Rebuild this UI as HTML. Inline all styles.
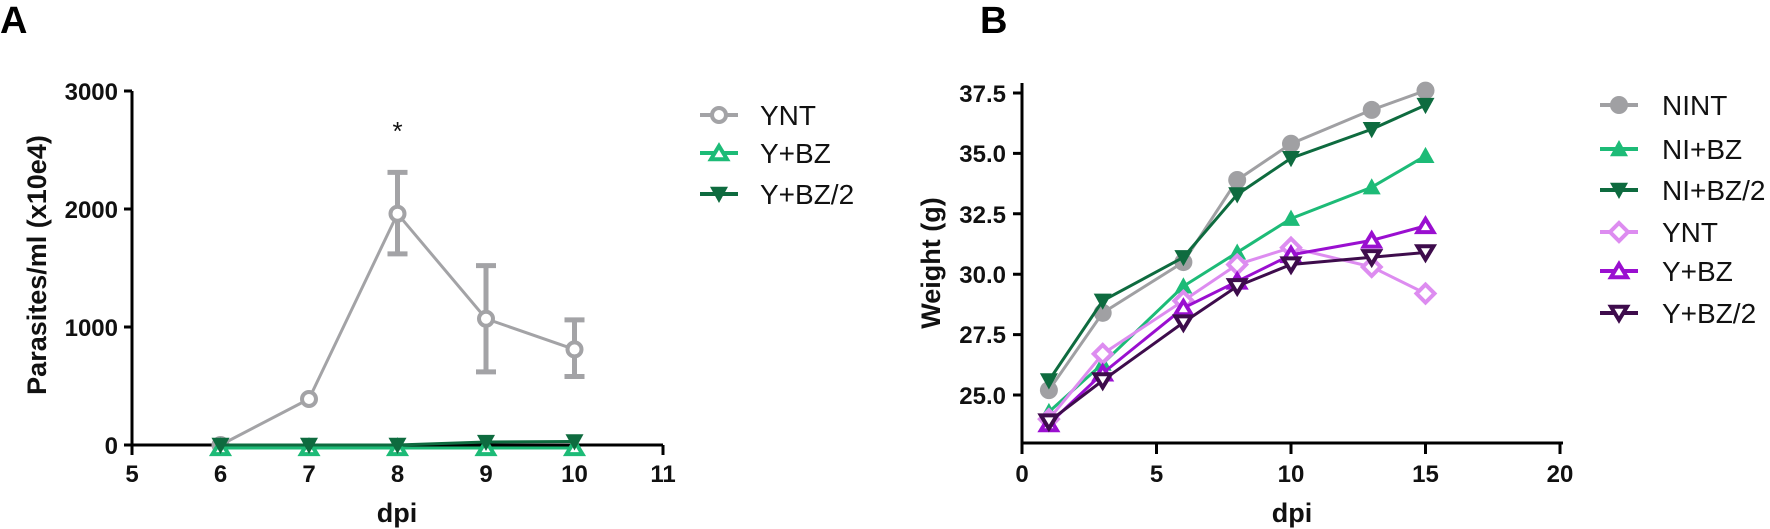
<!DOCTYPE html>
<html><head><meta charset="utf-8"><style>
html,body{margin:0;padding:0;background:#fff;}
svg{display:block;font-family:"Liberation Sans",Arial,sans-serif;}
.tk{font-size:24px;font-weight:bold;fill:#111;}
.lg{font-size:28px;fill:#111;}
.ax{font-size:27px;font-weight:bold;fill:#111;}
</style></head><body>
<svg id="s" width="1770" height="529" viewBox="0 0 1770 529" xmlns="http://www.w3.org/2000/svg">
<text x="0" y="33" font-size="38" font-weight="bold" fill="#000">A</text>
<text x="980" y="33" font-size="38" font-weight="bold" fill="#000">B</text>
<!-- Chart A axes -->
<g stroke="#000" stroke-width="3" fill="none">
<path d="M132,91 V445 H663"/>
<path d="M124,91H132M124,209H132M124,327H132M124,445H132"/>
<path d="M132,445V455M220.5,445V455M309,445V455M397.5,445V455M486,445V455M574.5,445V455M663,445V455"/>
</g>
<g class="tk" text-anchor="end">
<text x="118" y="100">3000</text><text x="118" y="218">2000</text><text x="118" y="336">1000</text><text x="118" y="454">0</text>
</g>
<g class="tk" text-anchor="middle">
<text x="132" y="482">5</text><text x="220.5" y="482">6</text><text x="309" y="482">7</text><text x="397.5" y="482">8</text><text x="486" y="482">9</text><text x="574.5" y="482">10</text><text x="663" y="482">11</text>
</g>
<text class="ax" text-anchor="middle" x="397" y="522">dpi</text>
<text class="ax" text-anchor="middle" transform="translate(46,265) rotate(-90)">Parasites/ml (x10e4)</text>
<text x="397.5" y="140" font-size="26" text-anchor="middle" fill="#111">*</text>
<!-- Chart B axes -->
<g stroke="#000" stroke-width="3" fill="none">
<path d="M1022,83 V443 H1563"/>
<path d="M1013,93H1022M1013,153.4H1022M1013,213.8H1022M1013,274.2H1022M1013,334.6H1022M1013,395H1022"/>
<path d="M1022,443V454M1156.5,443V454M1291,443V454M1425.5,443V454M1560,443V454"/>
</g>
<g class="tk" text-anchor="end">
<text x="1006" y="102">37.5</text><text x="1006" y="162">35.0</text><text x="1006" y="223">32.5</text><text x="1006" y="283">30.0</text><text x="1006" y="343">27.5</text><text x="1006" y="404">25.0</text>
</g>
<g class="tk" text-anchor="middle">
<text x="1022" y="482">0</text><text x="1156.5" y="482">5</text><text x="1291" y="482">10</text><text x="1425.5" y="482">15</text><text x="1560" y="482">20</text>
</g>
<text class="ax" text-anchor="middle" x="1292" y="522">dpi</text>
<text class="ax" text-anchor="middle" transform="translate(940,263) rotate(-90)">Weight (g)</text>
<!-- legends text -->
<g class="lg">
<text x="760" y="125">YNT</text><text x="760" y="163">Y+BZ</text><text x="760" y="204">Y+BZ/2</text>
<text x="1662" y="115">NINT</text><text x="1662" y="159">NI+BZ</text><text x="1662" y="200">NI+BZ/2</text>
<text x="1662" y="242">YNT</text><text x="1662" y="281">Y+BZ</text><text x="1662" y="323">Y+BZ/2</text>
</g>
<g id="g"></g>
</svg>
<script>
var g=document.getElementById('g'),NS="http://www.w3.org/2000/svg";
function el(t,a){var e=document.createElementNS(NS,t);for(var k in a)e.setAttribute(k,a[k]);g.appendChild(e);return e;}
function mk(type,x,y,c,r){
 r=r||8;
 if(type=='oc')el('circle',{cx:x,cy:y,r:r-2,fill:'#fff',stroke:c,'stroke-width':4});
 if(type=='fc')el('circle',{cx:x,cy:y,r:r,fill:c});
 if(type=='ut')el('path',{d:'M'+x+','+(y-r)+'L'+(x+r)+','+(y+r*0.8)+'L'+(x-r)+','+(y+r*0.8)+'Z',fill:c});
 if(type=='dt')el('path',{d:'M'+x+','+(y+r)+'L'+(x+r)+','+(y-r*0.8)+'L'+(x-r)+','+(y-r*0.8)+'Z',fill:c});
 if(type=='out')el('path',{d:'M'+x+','+(y-r+2)+'L'+(x+r-1)+','+(y+r*0.8-1)+'L'+(x-r+1)+','+(y+r*0.8-1)+'Z',fill:'#fff',stroke:c,'stroke-width':4});
 if(type=='odt')el('path',{d:'M'+x+','+(y+r-2)+'L'+(x+r-1)+','+(y-r*0.8+1)+'L'+(x-r+1)+','+(y-r*0.8+1)+'Z',fill:'#fff',stroke:c,'stroke-width':4});
 if(type=='od')el('path',{d:'M'+x+','+(y-r)+'L'+(x+r)+','+y+'L'+x+','+(y+r)+'L'+(x-r)+','+y+'Z',fill:'#fff',stroke:c,'stroke-width':4});
}
function series(pts,c,w,type){
 el('polyline',{points:pts.map(p=>p.join(',')).join(' '),fill:'none',stroke:c,'stroke-width':w});
 pts.forEach(p=>mk(type,p[0],p[1],c,9));
}
function leg(x1,x2,y,c,type){el('line',{x1:x1,x2:x2,y1:y,y2:y,stroke:c,'stroke-width':4});mk(type,(x1+x2)/2,y,c,9);}
// chart A
var ax=x=>132+(x-5)*88.5, ay=v=>445-v*0.118;
var gray='#a3a3a6',lg='#1dbb77',dg='#0e6b3f';
[[8,2310,1620],[9,1520,620],[10,1060,580]].forEach(e=>{
 var x=ax(e[0]);el('path',{d:'M'+x+','+ay(e[1])+'V'+ay(e[2])+'M'+(x-10)+','+ay(e[1])+'H'+(x+10)+'M'+(x-10)+','+ay(e[2])+'H'+(x+10),stroke:gray,'stroke-width':5,fill:'none'});});
series([[6,0],[7,390],[8,1960],[9,1070],[10,810]].map(p=>[ax(p[0]),ay(p[1])]),gray,3,'oc');
series([6,7,8,9,10].map(x=>[ax(x),ay(-25)]),lg,3,'out');
series([[6,0],[7,0],[8,0],[9,25],[10,30]].map(p=>[ax(p[0]),ay(p[1])]),dg,3,'dt');
leg(700,738,115,gray,'oc');leg(700,738,153,lg,'out');leg(700,738,194,dg,'dt');
// chart B
var bx=x=>1022+x*26.9, by=v=>395-(v-25)*24.16, X=[1,3,6,8,10,13,15];
function bs(v,c,t){series(X.map((x,i)=>[bx(x),by(v[i])]),c,3,t);}
bs([25.2,28.4,30.5,33.9,35.4,36.8,37.6],'#a0a0a3','fc');
bs([24.3,26.3,29.5,30.9,32.3,33.6,34.9],'#1dbb77','ut');
bs([25.6,28.9,30.7,33.3,34.8,36.0,37.0],'#0e6b3f','dt');
bs([24.0,26.7,28.9,30.4,31.1,30.3,29.2],'#dd8cf0','od');
bs([23.8,25.9,28.6,29.7,30.8,31.4,32.0],'#9a0fd0','out');
bs([23.9,25.6,28.0,29.5,30.4,30.7,30.9],'#3e0c4c','odt');
leg(1600,1638,105,'#a0a0a3','fc');leg(1600,1638,149,'#1dbb77','ut');leg(1600,1638,190,'#0e6b3f','dt');
leg(1600,1638,232,'#dd8cf0','od');leg(1600,1638,271,'#9a0fd0','out');leg(1600,1638,313,'#3e0c4c','odt');
</script>
</body></html>
